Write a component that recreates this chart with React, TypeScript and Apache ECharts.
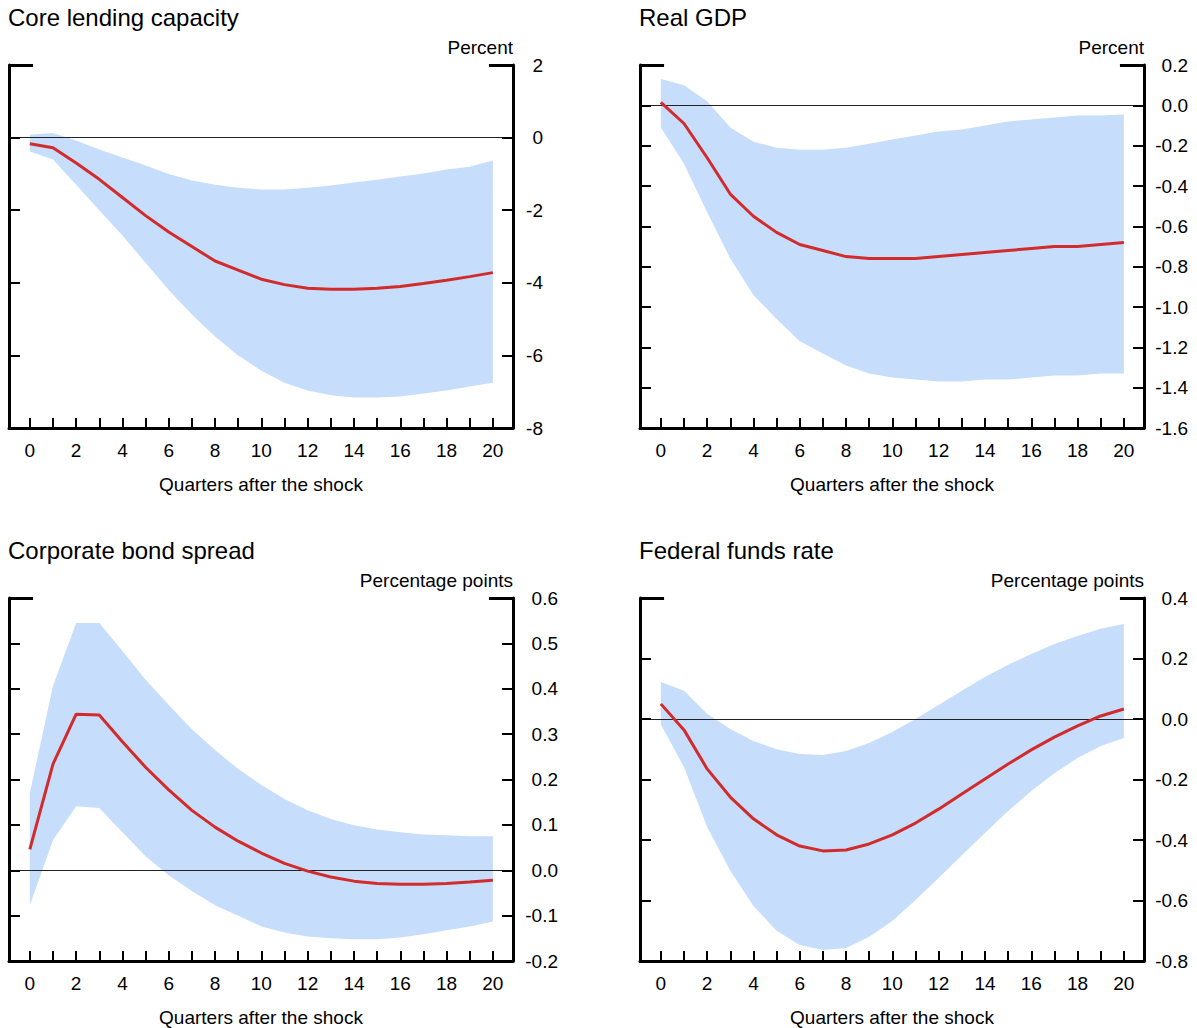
import React, { useEffect, useRef } from "react";
import * as echarts from "echarts";

const quarters = Array.from({ length: 21 }, (_, i) => i);
const xTickValues = quarters;
const xLabelValues = [0, 2, 4, 6, 8, 10, 12, 14, 16, 18, 20];

const titles = ["Core lending capacity", "Real GDP", "Corporate bond spread", "Federal funds rate"];
const units = ["Percent", "Percent", "Percentage points", "Percentage points"];

const lendingMid = [-0.17, -0.28, -0.7, -1.15, -1.65, -2.15, -2.6, -3.0, -3.4, -3.65, -3.9, -4.05, -4.15, -4.18, -4.18, -4.15, -4.1, -4.02, -3.93, -3.83, -3.72];
const lendingHigh = [0.08, 0.13, -0.08, -0.33, -0.55, -0.77, -1.0, -1.18, -1.3, -1.38, -1.43, -1.43, -1.38, -1.32, -1.24, -1.16, -1.07, -0.99, -0.88, -0.8, -0.63];
const lendingLow = [-0.38, -0.6, -1.3, -2.0, -2.7, -3.45, -4.2, -4.87, -5.48, -6.0, -6.42, -6.75, -6.97, -7.1, -7.16, -7.16, -7.13, -7.05, -6.97, -6.86, -6.75];

const gdpMid = [0.015, -0.09, -0.26, -0.44, -0.55, -0.63, -0.69, -0.72, -0.75, -0.76, -0.76, -0.76, -0.75, -0.74, -0.73, -0.72, -0.71, -0.7, -0.7, -0.69, -0.68];
const gdpHigh = [0.13, 0.1, 0.02, -0.11, -0.18, -0.21, -0.22, -0.22, -0.21, -0.19, -0.17, -0.15, -0.13, -0.12, -0.1, -0.08, -0.07, -0.06, -0.05, -0.05, -0.045];
const gdpLow = [-0.11, -0.29, -0.53, -0.76, -0.94, -1.06, -1.17, -1.23, -1.29, -1.33, -1.35, -1.36, -1.37, -1.37, -1.36, -1.36, -1.35, -1.34, -1.34, -1.33, -1.33];

const spreadMid = [0.046, 0.234, 0.344, 0.342, 0.283, 0.227, 0.177, 0.132, 0.095, 0.064, 0.038, 0.015, -0.002, -0.015, -0.024, -0.029, -0.031, -0.031, -0.029, -0.026, -0.022];
const spreadHigh = [0.17, 0.406, 0.545, 0.545, 0.483, 0.42, 0.364, 0.311, 0.265, 0.223, 0.188, 0.157, 0.132, 0.113, 0.099, 0.09, 0.084, 0.079, 0.077, 0.075, 0.075];
const spreadLow = [-0.077, 0.066, 0.141, 0.137, 0.084, 0.031, -0.011, -0.046, -0.077, -0.1, -0.124, -0.137, -0.146, -0.15, -0.152, -0.152, -0.148, -0.141, -0.132, -0.124, -0.113];

const ffrMid = [0.05, -0.036, -0.165, -0.258, -0.33, -0.383, -0.42, -0.436, -0.433, -0.413, -0.383, -0.344, -0.298, -0.248, -0.198, -0.149, -0.102, -0.06, -0.023, 0.01, 0.033];
const ffrHigh = [0.122, 0.093, 0.017, -0.033, -0.073, -0.1, -0.116, -0.119, -0.106, -0.079, -0.043, 0.0, 0.046, 0.093, 0.139, 0.179, 0.215, 0.248, 0.274, 0.298, 0.314];
const ffrLow = [-0.017, -0.159, -0.357, -0.502, -0.618, -0.7, -0.747, -0.764, -0.757, -0.72, -0.668, -0.598, -0.526, -0.45, -0.377, -0.304, -0.238, -0.179, -0.129, -0.089, -0.063];

const yMins = [-8, -1.6, -0.2, -0.8];
const yMaxs = [2, 0.2, 0.6, 0.4];
const yIntervals = [2, 0.2, 0.1, 0.2];
const yDecimals = [0, 1, 1, 1];
const yLabelMargins = [30, 44, 45, 44];

const mids = [lendingMid, gdpMid, spreadMid, ffrMid];
const highs = [lendingHigh, gdpHigh, spreadHigh, ffrHigh];
const lows = [lendingLow, gdpLow, spreadLow, ffrLow];

const FONT = "'Liberation Sans', Arial, sans-serif";
const BAND = "#c6ddfb";
const RED = "#d22b2b";

const X_MIN = -0.9;
const X_MAX = 20.87;
const TOP_TICK = 1.04; // length of the long top ticks, in quarters

const panelLeft = [9, 640, 9, 640];
const panelTop = [65, 65, 598, 598];
const panelW = 504;
const panelH = 363;

export default function App() {
  const ref = useRef<HTMLDivElement>(null);
  useEffect(() => {
    if (!ref.current) return;
    const chart = echarts.init(ref.current, null, { renderer: "svg" });
    const grid: any[] = [];
    const xAxis: any[] = [];
    const yAxis: any[] = [];
    const series: any[] = [];
    const title: any[] = [];
    for (let p = 0; p < 4; p++) {
      grid.push({
        left: panelLeft[p],
        top: panelTop[p],
        width: panelW,
        height: panelH,
        containLabel: false,
        outerBoundsMode: "none",
      });
      title.push({
        text: titles[p],
        left: panelLeft[p] - 1,
        top: panelTop[p] - 60,
        padding: 0,
        textStyle: { fontFamily: FONT, fontSize: 24, fontWeight: "normal", color: "#000" },
      });
      xAxis.push({
        type: "value",
        gridIndex: p,
        min: X_MIN,
        max: X_MAX,
        position: "bottom",
        name: "Quarters after the shock",
        nameLocation: "middle",
        nameGap: 47,
        nameMoveOverlap: false,
        nameTextStyle: { fontFamily: FONT, fontSize: 19, color: "#000" },
        axisLine: { show: true, onZero: false, lineStyle: { color: "#000", width: 3 } },
        axisTick: { show: true, inside: true, length: 10, customValues: xTickValues, lineStyle: { color: "#000", width: 2 } },
        axisLabel: { customValues: xLabelValues, margin: 13, fontFamily: FONT, fontSize: 19, color: "#000" },
        splitLine: { show: false },
        z: 10,
      });
      const yBase = {
        type: "value",
        gridIndex: p,
        min: yMins[p],
        max: yMaxs[p],
        interval: yIntervals[p],
        splitLine: { show: false },
        z: 10,
      };
      const rightIdx = yAxis.length;
      yAxis.push({
        ...yBase,
        position: "right",
        name: units[p],
        nameLocation: "end",
        nameGap: 8,
        nameMoveOverlap: false,
        nameTextStyle: { fontFamily: FONT, fontSize: 19, color: "#000", align: "right", verticalAlign: "bottom" },
        axisLine: { show: true, onZero: false, lineStyle: { color: "#000", width: 3 } },
        axisTick: { show: true, inside: true, length: 11, lineStyle: { color: "#000", width: 2 } },
        axisLabel: {
          margin: yLabelMargins[p],
          align: "right",
          padding: [6, 0, 0, 0],
          fontFamily: FONT,
          fontSize: 19,
          color: "#000",
          formatter: (v: number) => (Math.abs(v) < 1e-9 ? 0 : v).toFixed(yDecimals[p]),
        },
      });
      yAxis.push({
        ...yBase,
        position: "left",
        axisLine: { show: true, onZero: false, lineStyle: { color: "#000", width: 3 } },
        axisTick: { show: true, inside: true, length: 11, lineStyle: { color: "#000", width: 2 } },
        axisLabel: { show: false },
      });
      const hi = highs[p];
      const lo = lows[p];
      series.push({
        type: "custom",
        xAxisIndex: p,
        yAxisIndex: rightIdx,
        data: [[0, 0]],
        silent: true,
        z: 1,
        renderItem: (_params: any, api: any) => {
          const pts: number[][] = [];
          quarters.forEach((q, i) => pts.push(api.coord([q, hi[i]])));
          for (let i = quarters.length - 1; i >= 0; i--) pts.push(api.coord([quarters[i], lo[i]]));
          return { type: "polygon", shape: { points: pts }, style: { fill: BAND, stroke: "none" } };
        },
      });
      const tickStyle = { color: "#000", width: 3, type: "solid" };
      series.push({
        type: "line",
        xAxisIndex: p,
        yAxisIndex: rightIdx,
        data: quarters.map((q, i) => [q, mids[p][i]]),
        symbol: "none",
        lineStyle: { color: RED, width: 3 },
        clip: false,
        z: 5,
        markLine: {
          silent: true,
          symbol: "none",
          label: { show: false },
          lineStyle: { color: "#222", width: 1, type: "solid" },
          data: [
            { yAxis: 0 },
            [
              { coord: [X_MIN, yMaxs[p]], lineStyle: tickStyle },
              { coord: [X_MIN + TOP_TICK, yMaxs[p]], lineStyle: tickStyle },
            ],
            [
              { coord: [X_MAX - TOP_TICK, yMaxs[p]], lineStyle: tickStyle },
              { coord: [X_MAX, yMaxs[p]], lineStyle: tickStyle },
            ],
          ],
          z: 4,
        },
      });
    }
    chart.setOption({
      animation: false,
      backgroundColor: "#fff",
      textStyle: { fontFamily: FONT },
      title,
      grid,
      xAxis,
      yAxis,
      series,
    });
    return () => chart.dispose();
  }, []);
  return (
    <div
      ref={ref}
      style={{ position: "fixed", left: 0, top: 0, width: 1197, height: 1028, background: "#fff" }}
    />
  );
}
